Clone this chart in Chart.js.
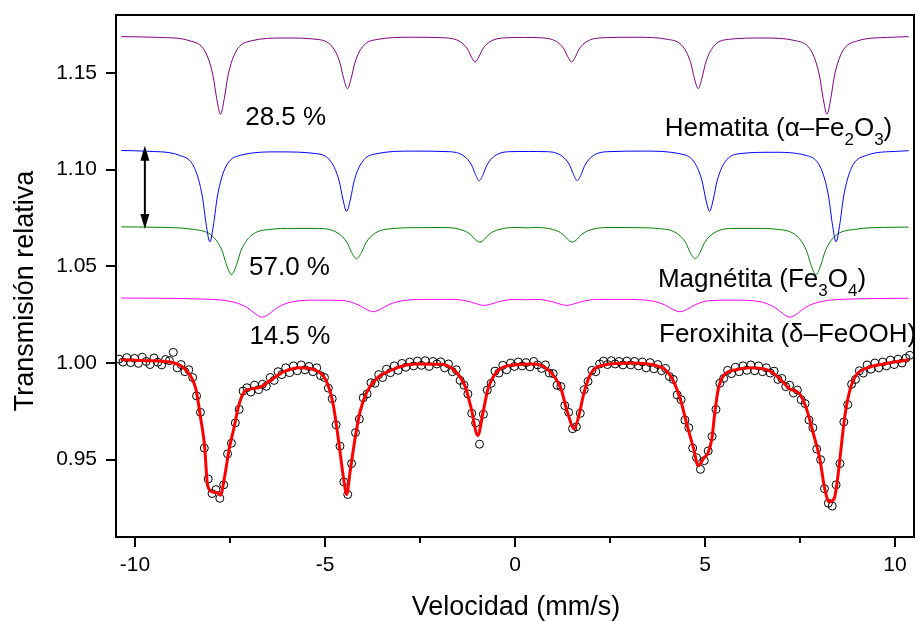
<!DOCTYPE html>
<html>
<head>
<meta charset="utf-8">
<script src="https://cdn.jsdelivr.net/npm/chart.js@4/dist/chart.umd.min.js"></script>
<style>
  html, body { margin: 0; padding: 0; background: #fff; }
  canvas { display: block; }
</style>
</head>
<body>
<canvas id="spectrum" width="919" height="621"></canvas>
<script>
// velocity channels (mm/s) of the measured spectrum
const velocity = [
  -10.42,-10.318,-10.216,-10.114,-10.012,-9.91,-9.808,-9.706,-9.604,-9.502,
  -9.4,-9.298,-9.196,-9.094,-8.992,-8.89,-8.788,-8.686,-8.584,-8.482,
  -8.38,-8.278,-8.176,-8.074,-7.972,-7.87,-7.768,-7.666,-7.564,-7.462,
  -7.36,-7.258,-7.156,-7.054,-6.952,-6.85,-6.748,-6.646,-6.544,-6.442,
  -6.34,-6.238,-6.136,-6.034,-5.932,-5.83,-5.728,-5.626,-5.524,-5.422,
  -5.32,-5.218,-5.116,-5.014,-4.912,-4.81,-4.708,-4.606,-4.504,-4.402,
  -4.3,-4.198,-4.096,-3.994,-3.892,-3.79,-3.688,-3.586,-3.484,-3.382,
  -3.28,-3.178,-3.076,-2.974,-2.872,-2.77,-2.668,-2.566,-2.464,-2.362,
  -2.26,-2.158,-2.056,-1.954,-1.852,-1.75,-1.648,-1.546,-1.444,-1.342,
  -1.24,-1.138,-1.036,-0.934,-0.832,-0.73,-0.628,-0.526,-0.424,-0.322,
  -0.22,-0.118,-0.016,0.086,0.188,0.29,0.392,0.494,0.596,0.698,
  0.8,0.902,1.004,1.106,1.208,1.31,1.412,1.514,1.616,1.718,
  1.82,1.922,2.024,2.126,2.228,2.33,2.432,2.534,2.636,2.738,
  2.84,2.942,3.044,3.146,3.248,3.35,3.452,3.554,3.656,3.758,
  3.86,3.962,4.064,4.166,4.268,4.37,4.472,4.574,4.676,4.778,
  4.88,4.982,5.084,5.186,5.288,5.39,5.492,5.594,5.696,5.798,
  5.9,6.002,6.104,6.206,6.308,6.41,6.512,6.614,6.716,6.818,
  6.92,7.022,7.124,7.226,7.328,7.43,7.532,7.634,7.736,7.838,
  7.94,8.042,8.144,8.246,8.348,8.45,8.552,8.654,8.756,8.858,
  8.96,9.062,9.164,9.266,9.368,9.47,9.572,9.674,9.776,9.878,
  9.98,10.082,10.184,10.286,10.388
];

// measured relative transmission
const transmission = [
  1.0020,1.0005,1.0028,1.0002,1.0024,0.9998,1.0030,1.0008,0.9992,1.0026,
  1.0004,0.9990,1.0018,1.0012,1.0055,0.9975,0.9992,0.9955,0.9965,0.9925,
  0.9830,0.9745,0.9560,0.9400,0.9325,0.9345,0.9300,0.9370,0.9530,0.9585,
  0.9690,0.9760,0.9855,0.9872,0.9850,0.9885,0.9862,0.9890,0.9880,0.9925,
  0.9910,0.9955,0.9940,0.9975,0.9950,0.9985,0.9960,0.9990,0.9965,0.9982,
  0.9955,0.9975,0.9935,0.9925,0.9870,0.9815,0.9680,0.9570,0.9385,0.9320,
  0.9480,0.9640,0.9710,0.9820,0.9840,0.9898,0.9895,0.9940,0.9925,0.9968,
  0.9950,0.9985,0.9962,0.9998,0.9978,1.0005,0.9985,1.0010,0.9988,1.0012,
  0.9982,1.0008,0.9995,1.0006,0.9975,0.9995,0.9955,0.9965,0.9910,0.9885,
  0.9840,0.9740,0.9690,0.9580,0.9735,0.9860,0.9895,0.9958,0.9948,0.9988,
  0.9965,1.0000,0.9982,1.0005,0.9985,1.0002,0.9980,1.0008,0.9990,0.9972,
  0.9990,0.9948,0.9945,0.9885,0.9878,0.9780,0.9745,0.9660,0.9670,0.9740,
  0.9862,0.9905,0.9962,0.9955,0.9995,1.0010,0.9992,1.0012,0.9995,1.0008,
  0.9990,1.0010,0.9990,1.0008,0.9985,1.0005,0.9975,1.0002,0.9970,0.9992,
  0.9960,0.9972,0.9930,0.9915,0.9835,0.9810,0.9705,0.9665,0.9560,0.9510,
  0.9450,0.9495,0.9545,0.9620,0.9760,0.9895,0.9920,0.9962,0.9945,0.9978,
  0.9955,0.9985,0.9962,0.9990,0.9960,0.9985,0.9955,0.9975,0.9948,0.9958,
  0.9915,0.9920,0.9878,0.9885,0.9845,0.9860,0.9810,0.9790,0.9705,0.9665,
  0.9555,0.9500,0.9350,0.9275,0.9260,0.9370,0.9480,0.9695,0.9785,0.9890,
  0.9915,0.9960,0.9948,0.9990,0.9968,1.0000,0.9975,1.0005,0.9985,1.0015,
  0.9992,1.0020,1.0000,1.0025,1.0040
];

// total fit (red)
const fitCurve = [
  [-10.37,1.0017],[-9.70,1.0012],[-8.97,1.0000],[-8.61,0.9952],[-8.40,0.9866],[-8.27,0.9711],
  [-8.17,0.9574],[-8.09,0.9368],[-7.96,0.9333],[-7.83,0.9330],[-7.75,0.9316],[-7.65,0.9402],
  [-7.52,0.9557],[-7.40,0.9660],[-7.27,0.9780],[-7.13,0.9849],[-6.96,0.9866],[-6.70,0.9875],
  [-6.44,0.9909],[-6.08,0.9955],[-5.65,0.9976],[-5.22,0.9960],[-4.95,0.9900],[-4.78,0.9780],
  [-4.65,0.9608],[-4.51,0.9402],[-4.43,0.9320],[-4.34,0.9437],[-4.21,0.9608],[-4.08,0.9746],
  [-3.90,0.9849],[-3.65,0.9918],[-3.29,0.9960],[-2.86,0.9990],[-2.55,0.9995],[-1.93,0.9993],
  [-1.59,0.9960],[-1.32,0.9883],[-1.15,0.9763],[-0.98,0.9625],[-0.84,0.9746],[-0.71,0.9866],
  [-0.45,0.9960],[-0.02,0.9990],[0.51,0.9995],[0.94,0.9952],[1.21,0.9866],[1.38,0.9746],
  [1.56,0.9660],[1.68,0.9728],[1.82,0.9849],[1.99,0.9943],[2.35,0.9990],[3.04,1.0000],
  [3.73,0.9986],[4.09,0.9935],[4.35,0.9814],[4.53,0.9677],[4.70,0.9557],[4.82,0.9468],
  [4.96,0.9505],[5.09,0.9540],[5.18,0.9608],[5.26,0.9746],[5.35,0.9866],[5.49,0.9935],
  [5.83,0.9966],[6.18,0.9976],[6.70,0.9960],[6.97,0.9918],[7.23,0.9866],[7.49,0.9840],
  [7.67,0.9763],[7.84,0.9643],[8.02,0.9505],[8.15,0.9351],[8.27,0.9282],[8.40,0.9299],
  [8.49,0.9402],[8.58,0.9557],[8.67,0.9711],[8.80,0.9849],[8.97,0.9935],[9.32,0.9978],
  [9.84,1.0000],[10.37,1.0017]
];

// hematite sextet (purple, shifted up)
const hematitaCurve = [
  [-10.36,1.1688],[-9.35,1.1684],
  [-8.55,1.1666],[-8.15,1.1609],[-7.95,1.1489],[-7.85,1.1368],[-7.75,1.1287],[-7.65,1.1368],[-7.55,1.1489],[-7.35,1.1609],[-6.95,1.1666],
  [-6.08,1.1681],
  [-5.21,1.1674],[-4.81,1.1636],[-4.61,1.1555],[-4.51,1.1473],[-4.41,1.1419],[-4.31,1.1473],[-4.21,1.1555],[-4.01,1.1636],[-3.61,1.1674],
  [-2.73,1.1685],
  [-1.85,1.1682],[-1.45,1.1663],[-1.25,1.1624],[-1.15,1.1584],[-1.05,1.1557],[-0.95,1.1584],[-0.85,1.1624],[-0.65,1.1663],[-0.25,1.1682],
  [0.22,1.1684],
  [0.69,1.1682],[1.09,1.1663],[1.29,1.1624],[1.39,1.1584],[1.49,1.1557],[1.59,1.1584],[1.69,1.1624],[1.89,1.1663],[2.29,1.1682],
  [3.16,1.1685],
  [4.02,1.1674],[4.42,1.1636],[4.62,1.1555],[4.72,1.1473],[4.82,1.1419],[4.92,1.1473],[5.02,1.1555],[5.22,1.1636],[5.62,1.1674],
  [6.52,1.1681],
  [7.41,1.1666],[7.81,1.1609],[8.01,1.1489],[8.11,1.1368],[8.21,1.1287],[8.31,1.1368],[8.41,1.1489],[8.61,1.1609],[9.01,1.1666],
  [9.81,1.1684],[10.36,1.1688]
];

// magnetite A site (blue)
const magnetitaACurve = [
  [-10.36,1.1099],[-9.63,1.1095],
  [-8.83,1.1074],[-8.43,1.1007],[-8.23,1.0864],[-8.13,1.0721],[-8.03,1.0626],[-7.93,1.0721],[-7.83,1.0864],[-7.63,1.1007],[-7.23,1.1074],
  [-6.23,1.1092],
  [-5.23,1.1083],[-4.83,1.1038],[-4.63,1.0943],[-4.53,1.0848],[-4.43,1.0784],[-4.33,1.0848],[-4.23,1.0943],[-4.03,1.1038],[-3.63,1.1083],
  [-2.69,1.1096],
  [-1.74,1.1093],[-1.34,1.1070],[-1.14,1.1023],[-1.04,1.0975],[-0.94,1.0943],[-0.84,1.0975],[-0.74,1.1023],[-0.54,1.1070],[-0.14,1.1093],
  [0.35,1.1094],
  [0.84,1.1093],[1.24,1.1070],[1.44,1.1023],[1.54,1.0975],[1.64,1.0943],[1.74,1.0975],[1.84,1.1023],[2.04,1.1070],[2.44,1.1093],
  [3.38,1.1096],
  [4.32,1.1083],[4.72,1.1038],[4.92,1.0943],[5.02,1.0848],[5.12,1.0784],[5.22,1.0848],[5.32,1.0943],[5.52,1.1038],[5.92,1.1083],
  [6.79,1.1090],
  [7.65,1.1074],[8.05,1.1007],[8.25,1.0864],[8.35,1.0721],[8.45,1.0626],[8.55,1.0721],[8.65,1.0864],[8.85,1.1007],[9.25,1.1074],
  [10.05,1.1095],[10.36,1.1098]
];

// magnetite B site (green)
const magnetitaBCurve = [
  [-10.36,1.0704],[-9.46,1.0702],
  [-8.46,1.0691],[-7.96,1.0656],[-7.71,1.0582],[-7.59,1.0507],[-7.46,1.0457],[-7.33,1.0507],[-7.21,1.0582],[-6.96,1.0656],[-6.46,1.0691],
  [-5.82,1.0696],
  [-5.17,1.0696],[-4.67,1.0673],[-4.42,1.0623],[-4.30,1.0572],[-4.17,1.0539],[-4.04,1.0572],[-3.92,1.0623],[-3.67,1.0673],[-3.17,1.0696],
  [-2.55,1.0700],
  [-1.93,1.0701],[-1.43,1.0690],[-1.18,1.0666],[-1.06,1.0641],[-0.93,1.0625],[-0.80,1.0641],[-0.68,1.0666],[-0.43,1.0690],[0.07,1.0701],
  [0.29,1.0699],
  [0.51,1.0701],[1.01,1.0690],[1.26,1.0666],[1.38,1.0641],[1.51,1.0625],[1.64,1.0641],[1.76,1.0666],[2.01,1.0690],[2.51,1.0701],
  [3.13,1.0700],
  [3.74,1.0696],[4.24,1.0673],[4.49,1.0623],[4.61,1.0572],[4.74,1.0539],[4.87,1.0572],[4.99,1.0623],[5.24,1.0673],[5.74,1.0696],
  [6.33,1.0696],
  [6.92,1.0691],[7.42,1.0656],[7.67,1.0582],[7.79,1.0507],[7.92,1.0457],[8.05,1.0507],[8.17,1.0582],[8.42,1.0656],[8.92,1.0691],
  [9.92,1.0702],[10.36,1.0703]
];

// feroxyhite sextet (magenta)
const feroxihitaCurve = [
  [-10.36,1.0336],[-8.25,1.0331],
  [-7.45,1.0317],[-7.05,1.0287],[-6.85,1.0257],[-6.65,1.0237],[-6.45,1.0257],[-6.25,1.0287],[-5.85,1.0317],
  [-5.19,1.0325],
  [-4.53,1.0323],[-4.13,1.0301],[-3.93,1.0279],[-3.73,1.0265],[-3.53,1.0279],[-3.33,1.0301],[-2.93,1.0323],
  [-2.27,1.0329],
  [-1.61,1.0329],[-1.21,1.0318],[-1.01,1.0306],[-0.81,1.0298],[-0.61,1.0306],[-0.41,1.0318],[-0.01,1.0329],
  [0.28,1.0327],
  [0.56,1.0329],[0.96,1.0318],[1.16,1.0306],[1.36,1.0298],[1.56,1.0306],[1.76,1.0318],[2.16,1.0329],
  [2.85,1.0329],
  [3.54,1.0323],[3.94,1.0301],[4.14,1.0279],[4.34,1.0265],[4.54,1.0279],[4.74,1.0301],[5.14,1.0323],
  [5.79,1.0325],
  [6.44,1.0317],[6.84,1.0287],[7.04,1.0257],[7.24,1.0237],[7.44,1.0257],[7.64,1.0287],[8.04,1.0317],
  [8.84,1.0331],[10.36,1.0335]
];

const minorTicksX = [-7.5, -2.5, 2.5, 7.5];

// text annotations: [x, y] in data units, text parts (true = subscript)
const annotations = [
  { at: [-7.10, 1.1229], parts: [['28.5 %']] },
  { at: [-7.00, 1.0453], parts: [['57.0 %']] },
  { at: [-6.99, 1.0096], parts: [['14.5 %']] },
  { at: [3.94, 1.1173], parts: [['Hematita (α–Fe'], ['2', true], ['O'], ['3', true], [')']] },
  { at: [3.76, 1.0391], parts: [['Magnétita (Fe'], ['3', true], ['O'], ['4', true], [')']] },
  { at: [3.79, 1.0107], parts: [['Feroxihita (δ–FeOOH)']] }
];

// double arrow marking the vertical offset between spectra
const offsetArrow = { x: -9.74, top: 1.1124, bottom: 1.0693 };

const FONT = '"Liberation Sans", Arial, Helvetica, sans-serif';

const toPoints = (pairs) => pairs.map(([x, y]) => ({ x, y }));

function curve(label, pairs, color) {
  return {
    label,
    data: toPoints(pairs),
    showLine: true,
    borderColor: color,
    borderWidth: 1,
    pointRadius: 0,
    cubicInterpolationMode: 'monotone',
    order: 2
  };
}

function drawParts(ctx, parts, x0, y0) {
  let cx = x0;
  for (const [txt, sub] of parts) {
    ctx.font = sub ? '17px ' + FONT : '26px ' + FONT;
    ctx.fillText(txt, cx, y0 + (sub ? 9 : 0));
    cx += ctx.measureText(txt).width;
  }
}

// no extra label padding around the plot box
function noPadding(scale) {
  scale.paddingTop = 0;
  scale.paddingBottom = 0;
  scale.paddingLeft = 0;
  scale.paddingRight = 0;
}

const figureExtras = {
  id: 'figureExtras',
  afterDraw(chart) {
    const { ctx, chartArea: a, scales: { x, y } } = chart;
    ctx.save();

    // frame around the plot
    ctx.strokeStyle = '#000';
    ctx.lineWidth = 2;
    ctx.strokeRect(a.left, a.top, a.right - a.left, a.bottom - a.top);

    // minor ticks on the velocity axis
    ctx.beginPath();
    for (const v of minorTicksX) {
      const px = Math.round(x.getPixelForValue(v));
      ctx.moveTo(px, a.bottom);
      ctx.lineTo(px, a.bottom + 6);
    }
    ctx.stroke();

    // double arrow
    const ax = x.getPixelForValue(offsetArrow.x);
    const at = y.getPixelForValue(offsetArrow.top);
    const ab = y.getPixelForValue(offsetArrow.bottom);
    const head = 15, half = 4.5;
    ctx.fillStyle = '#000';
    ctx.beginPath();
    ctx.moveTo(ax, at + head - 2);
    ctx.lineTo(ax, ab - head + 2);
    ctx.stroke();
    ctx.beginPath();
    ctx.moveTo(ax, at);
    ctx.lineTo(ax - half, at + head);
    ctx.lineTo(ax + half, at + head);
    ctx.closePath();
    ctx.fill();
    ctx.beginPath();
    ctx.moveTo(ax, ab);
    ctx.lineTo(ax - half, ab - head);
    ctx.lineTo(ax + half, ab - head);
    ctx.closePath();
    ctx.fill();

    // annotations
    ctx.textAlign = 'left';
    ctx.textBaseline = 'alphabetic';
    for (const note of annotations) {
      drawParts(ctx, note.parts, x.getPixelForValue(note.at[0]), y.getPixelForValue(note.at[1]));
    }

    // axis titles
    ctx.font = '27px ' + FONT;
    ctx.textAlign = 'center';
    ctx.fillText('Velocidad (mm/s)', (a.left + a.right) / 2 + 1, 615);
    ctx.translate(33, 291);
    ctx.rotate(-Math.PI / 2);
    ctx.fillText('Transmisión relativa', 0, 0);

    ctx.restore();
  }
};

const tickGrid = {
  drawOnChartArea: false,
  drawTicks: true,
  tickLength: 10,
  lineWidth: 2,
  color: '#000'
};

new Chart(document.getElementById('spectrum'), {
  type: 'scatter',
  data: {
    datasets: [
      {
        label: 'Ajuste',
        data: toPoints(fitCurve),
        showLine: true,
        borderColor: '#ff0000',
        borderWidth: 3,
        pointRadius: 0,
        cubicInterpolationMode: 'monotone',
        order: 0
      },
      {
        label: 'Experimental',
        data: velocity.map((v, i) => ({ x: v, y: transmission[i] })),
        showLine: false,
        pointStyle: 'circle',
        pointRadius: 4,
        borderWidth: 1,
        borderColor: '#000',
        backgroundColor: 'rgba(0,0,0,0)',
        order: 1
      },
      curve('Hematita', hematitaCurve, '#800080'),
      curve('Magnetita A', magnetitaACurve, '#0000ff'),
      curve('Magnetita B', magnetitaBCurve, '#008000'),
      curve('Feroxihita', feroxihitaCurve, '#ff00ff')
    ]
  },
  options: {
    responsive: false,
    animation: false,
    events: [],
    layout: { padding: { top: 15, right: 1, left: 0, bottom: 0 } },
    plugins: {
      legend: { display: false },
      tooltip: { enabled: false }
    },
    scales: {
      x: {
        type: 'linear',
        min: -10.5,
        max: 10.5,
        afterFit(scale) { scale.height = 84; noPadding(scale); },
        border: { display: false },
        grid: tickGrid,
        ticks: {
          stepSize: 5,
          includeBounds: false,
          autoSkip: false,
          maxRotation: 0,
          padding: 6,
          color: '#000',
          font: { family: FONT, size: 21 },
          callback: (v) => String(v)
        }
      },
      y: {
        type: 'linear',
        min: 0.91,
        max: 1.18,
        afterFit(scale) { scale.width = 116; noPadding(scale); },
        border: { display: false },
        grid: tickGrid,
        ticks: {
          stepSize: 0.05,
          includeBounds: false,
          autoSkip: false,
          padding: 9,
          color: '#000',
          font: { family: FONT, size: 21 },
          callback: (v) => Number(v).toFixed(2)
        }
      }
    }
  },
  plugins: [figureExtras]
});
</script>
</body>
</html>
